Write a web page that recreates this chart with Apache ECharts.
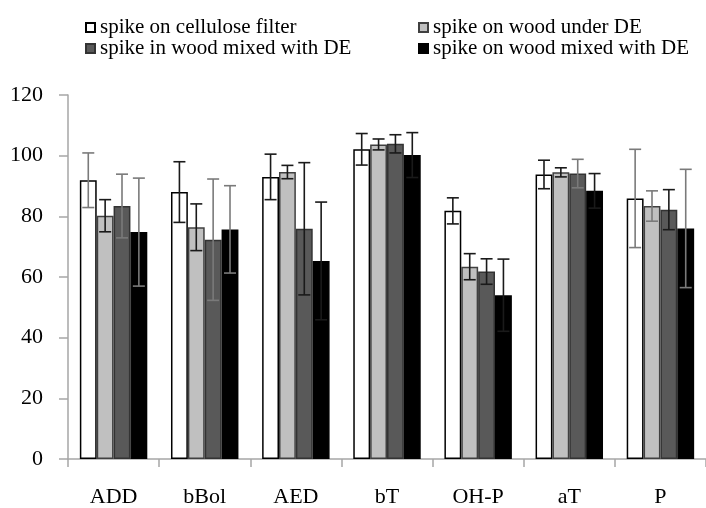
<!DOCTYPE html>
<html>
<head>
<meta charset="utf-8">
<script src="https://cdn.jsdelivr.net/npm/echarts@6/dist/echarts.min.js"></script>
<style>
  html, body { margin: 0; padding: 0; background: #fff; }
  #chart { width: 706px; height: 508px; }
</style>
</head>
<body>
<div id="chart"></div>
<script>
// Recovery (%) per compound, four spiking set-ups, mean and error
const categories = ['ADD', 'bBol', 'AED', 'bT', 'OH-P', 'aT', 'P'];
const seriesNames = [
  'spike on cellulose filter',
  'spike on wood under DE',
  'spike in wood mixed with DE',
  'spike on wood mixed with DE'
];
const celluloseMean = [91.9, 88.0, 93.0, 102.1, 81.8, 93.8, 85.9];
const celluloseErr  = [9.0, 10.0, 7.5, 5.2, 4.3, 4.7, 16.2];
const underDEMean   = [80.2, 76.4, 94.6, 103.7, 63.4, 94.5, 83.4];
const underDEErr    = [5.3, 7.7, 2.2, 1.8, 4.3, 1.5, 5.0];
const inMixedMean   = [83.4, 72.3, 75.9, 103.9, 61.8, 94.1, 82.2];
const inMixedErr    = [10.5, 20.0, 21.8, 3.0, 4.2, 4.7, 6.6];
const onMixedMean   = [74.8, 75.7, 65.3, 100.2, 54.0, 88.4, 76.0];
const onMixedErr    = [17.8, 14.4, 19.4, 7.4, 11.9, 5.7, 19.5];
const yTicks = [0, 20, 40, 60, 80, 100, 120];

const means = [celluloseMean, underDEMean, inMixedMean, onMixedMean];
const errs = [celluloseErr, underDEErr, inMixedErr, onMixedErr];

// bar look per set-up
const fills = ['#ffffff', '#c0c0c0', '#595959', '#000000'];
const borders = ['#000000', '#404040', '#333333', '#000000'];
// whiskers drawn in mid grey for some bars, near-black elsewhere
const greyWhisker = { '0-0': 1, '0-2': 1, '0-3': 1, '1-2': 1, '1-3': 1, '5-2': 1, '6-0': 1, '6-1': 1, '6-3': 1 };

const FONT = '"Liberation Serif", "Times New Roman", serif';
const CAT_GAP = 0.26;
const N = 4;

const chart = echarts.init(document.getElementById('chart'), null, { renderer: 'canvas' });

const barSeries = seriesNames.map((name, k) => ({
  name: name,
  type: 'bar',
  data: means[k],
  barGap: '0%',
  barCategoryGap: (CAT_GAP * 100) + '%',
  itemStyle: { color: fills[k], borderColor: borders[k], borderWidth: 1.5 },
  emphasis: { disabled: true },
  z: 2
}));

const errorSeries = seriesNames.map((name, k) => ({
  type: 'custom',
  name: 'err' + k,
  data: means[k].map((m, i) => [i, m, errs[k][i]]),
  encode: { x: 0, y: 1 },
  z: 5,
  silent: true,
  renderItem: function (params, api) {
    const i = api.value(0);
    const m = api.value(1);
    const e = api.value(2);
    const band = api.size([1, 0])[0];
    const barW = band * (1 - CAT_GAP) / N;
    const cx = api.coord([i, 0])[0] + (k - (N - 1) / 2) * barW;
    const yTop = api.coord([i, m + e])[1];
    const yBot = api.coord([i, m - e])[1];
    const half = 6;
    const col = greyWhisker[i + '-' + k] ? '#7a7a7a' : '#1a1a1a';
    const st = { stroke: col, lineWidth: 1.6 };
    return {
      type: 'group',
      children: [
        { type: 'line', shape: { x1: cx, y1: yTop, x2: cx, y2: yBot }, style: st },
        { type: 'line', shape: { x1: cx - half, y1: yTop, x2: cx + half, y2: yTop }, style: st },
        { type: 'line', shape: { x1: cx - half, y1: yBot, x2: cx + half, y2: yBot }, style: st }
      ]
    };
  }
}));

const legendCommon = {
  orient: 'vertical',
  top: 12,
  itemWidth: 9,
  itemHeight: 9,
  itemGap: 0,
  icon: 'rect',
  selectedMode: false,
  textStyle: { fontFamily: FONT, fontSize: 21, color: '#000', lineHeight: 20 }
};

chart.setOption({
  animation: false,
  backgroundColor: '#ffffff',
  legend: [
    Object.assign({}, legendCommon, { left: 80, data: [seriesNames[0], seriesNames[2]] }),
    Object.assign({}, legendCommon, { left: 413, data: [seriesNames[1], seriesNames[3]] })
  ],
  grid: { left: 68, top: 95, width: 644, height: 364, containLabel: false },
  xAxis: {
    type: 'category',
    data: categories,
    boundaryGap: true,
    axisLine: { lineStyle: { color: '#a6a6a6', width: 1.5 } },
    axisTick: { show: true, length: 8, lineStyle: { color: '#a6a6a6', width: 1.5 } },
    axisLabel: { fontFamily: FONT, fontSize: 22, color: '#000', margin: 27 }
  },
  yAxis: {
    type: 'value',
    min: yTicks[0],
    max: yTicks[yTicks.length - 1],
    interval: yTicks[1] - yTicks[0],
    axisLine: { show: true, lineStyle: { color: '#a6a6a6', width: 1.5 } },
    axisTick: { show: true, length: 9, lineStyle: { color: '#a6a6a6', width: 1.5 } },
    splitLine: { show: false },
    axisLabel: { fontFamily: FONT, fontSize: 22, color: '#000', margin: 25 }
  },
  series: barSeries.concat(errorSeries)
});
</script>
</body>
</html>
